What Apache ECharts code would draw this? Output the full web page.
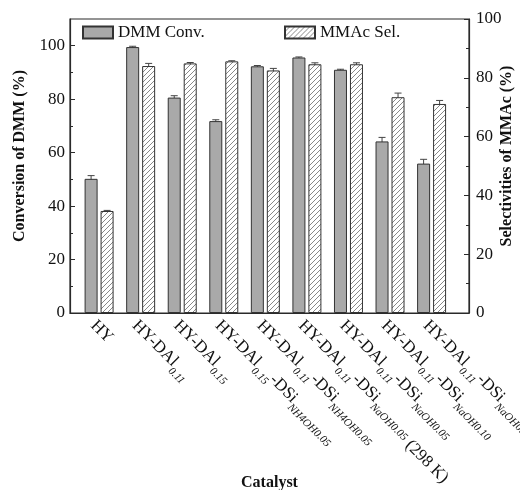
<!DOCTYPE html>
<html>
<head>
<meta charset="utf-8">
<script src="https://cdn.jsdelivr.net/npm/echarts@6/dist/echarts.min.js"></script>
<style>html,body{margin:0;padding:0;background:#fff;}#c{width:520px;height:490px;}</style>
</head>
<body>
<div id="c"></div>
<script>
// ---- data ----
var categories = ['HY', 'HY-DAl0.11', 'HY-DAl0.15', 'HY-DAl0.15-DSiNH4OH0.05', 'HY-DAl0.11-DSiNH4OH0.05',
  'HY-DAl0.11-DSiNaOH0.05 (298 K)', 'HY-DAl0.11-DSiNaOH0.05', 'HY-DAl0.11-DSiNaOH0.10', 'HY-DAl0.11-DSiNaOH0.20'];
var categoryLabels = [
  '{m|HY}',
  '{m|HY-DAl}{s|0.11}',
  '{m|HY-DAl}{s|0.15}',
  '{m|HY-DAl}{s|0.15}{m|-DSi}{s|NH4OH0.05}',
  '{m|HY-DAl}{s|0.11}{m|-DSi}{s|NH4OH0.05}',
  '{m|HY-DAl}{s|0.11}{m|-DSi}{s|NaOH0.05}{b| (298 K)}',
  '{m|HY-DAl}{s|0.11}{m|-DSi}{s|NaOH0.05}',
  '{m|HY-DAl}{s|0.11}{m|-DSi}{s|NaOH0.10}',
  '{m|HY-DAl}{s|0.11}{m|-DSi}{s|NaOH0.20}'
];
var dmmConv = [50.2, 99.5, 80.6, 71.8, 92.3, 95.6, 91.0, 64.2, 55.9];
var dmmErr  = [1.2, 0.3, 0.7, 0.5, 0.3, 0.2, 0.2, 1.5, 1.6];
var mmacSel = [34.7, 84.0, 84.9, 85.6, 82.5, 84.6, 84.6, 73.4, 71.1];
var mmacErr = [0.2, 0.9, 0.3, 0.2, 0.7, 0.5, 0.5, 1.4, 1.2];
var leftTicks = [0, 20, 40, 60, 80, 100];
var leftMinorTicks = [10, 30, 50, 70, 90];
var catIndex = [0, 1, 2, 3, 4, 5, 6, 7, 8];

// ---- styles ----
var FONT = 'Liberation Serif';
var AX = '#2a2a2a';

function hatch() {
  var s = 5;
  var c = document.createElement('canvas');
  c.width = s; c.height = s;
  var g = c.getContext('2d');
  g.fillStyle = '#ffffff'; g.fillRect(0, 0, s, s);
  g.strokeStyle = '#7a7a7a'; g.lineWidth = 0.9;
  g.beginPath();
  g.moveTo(-1, s + 1); g.lineTo(s + 1, -1);
  g.moveTo(-1, 1); g.lineTo(1, -1);
  g.moveTo(s - 1, s + 1); g.lineTo(s + 1, s - 1);
  g.stroke();
  return c;
}

function errSeries(vals, errs, yIdx, dx) {
  return {
    type: 'custom', xAxisIndex: 0, yAxisIndex: yIdx, z: 1, silent: true,
    encode: { x: 0, y: 1 },
    data: vals.map(function (v, i) { return [catIndex[i], v, errs[i]]; }),
    renderItem: function (params, api) {
      var x = api.value(0), v = api.value(1), e = api.value(2);
      var top = api.coord([x, v + e]);
      var bot = api.coord([x, v - e]);
      var cx = top[0] + dx;
      var st = { stroke: '#444', lineWidth: 1 };
      return {
        type: 'group', children: [
          { type: 'line', shape: { x1: cx, y1: top[1], x2: cx, y2: bot[1] }, style: st },
          { type: 'line', shape: { x1: cx - 3.5, y1: top[1], x2: cx + 3.5, y2: top[1] }, style: st }
        ]
      };
    }
  };
}

var chart = echarts.init(document.getElementById('c'), null, { renderer: 'canvas' });
var legendText = { fontFamily: FONT, fontSize: 17, color: '#111' };
var axLine = { show: true, onZero: false, lineStyle: { color: AX, width: 1.2 } };
chart.setOption({
  animation: false,
  backgroundColor: '#fff',
  textStyle: { fontFamily: FONT },
  grid: { left: 70, right: 51, top: 19, bottom: 177, containLabel: false, outerBoundsMode: 'none',
          show: true, borderColor: AX, borderWidth: 1.2, backgroundColor: 'transparent' },
  legend: [
    { data: ['DMM Conv.'], icon: 'rect', left: 82, top: 24, padding: 0, itemWidth: 30, itemHeight: 12, itemGap: 4, textStyle: legendText },
    { data: ['MMAc Sel.'], icon: 'rect', left: 284, top: 24, padding: 0, itemWidth: 30, itemHeight: 12, itemGap: 4, textStyle: legendText }
  ],
  xAxis: {
    type: 'value', min: -0.7, max: 8.9,
    axisLine: axLine,
    axisTick: { show: false },
    splitLine: { show: false },
    name: 'Catalyst', nameLocation: 'middle', nameGap: 162, nameMoveOverlap: false,
    nameTextStyle: { fontFamily: FONT, fontSize: 16, fontWeight: 'bold', color: '#111' },
    axisLabel: {
      customValues: catIndex,
      rotate: -45, align: 'left', verticalAlign: 'top', margin: 4,
      formatter: function (v) { return categoryLabels[Math.round(v)]; },
      rich: {
        m: { fontFamily: FONT, fontSize: 17, color: '#111', verticalAlign: 'top' },
        s: { fontFamily: FONT, fontSize: 11, fontStyle: 'italic', color: '#111', verticalAlign: 'top', padding: [11, 0, 0, 0] },
        b: { fontFamily: FONT, fontSize: 17, color: '#111', verticalAlign: 'top', padding: [9, 0, 0, 0] }
      }
    }
  },
  yAxis: [
    {
      type: 'value', position: 'left', min: 0, max: 110,
      axisLine: axLine,
      axisTick: { show: true, inside: true, length: 5, customValues: leftTicks, lineStyle: { color: AX } },
      axisLabel: { customValues: leftTicks, fontFamily: FONT, fontSize: 17, color: '#111', margin: 5 },
      splitLine: { show: false },
      name: 'Conversion of DMM (%)', nameLocation: 'middle', nameRotate: 90, nameGap: 42, nameMoveOverlap: false,
      nameTextStyle: { fontFamily: FONT, fontSize: 16, fontWeight: 'bold', color: '#111', padding: [0, 0, 0, 20] }
    },
    {
      type: 'value', position: 'right', min: 0, max: 100, interval: 20,
      axisLine: axLine,
      axisTick: { show: true, inside: true, length: 5, lineStyle: { color: AX } },
      minorTick: { show: true, splitNumber: 2, length: 3, lineStyle: { color: AX } },
      axisLabel: { fontFamily: FONT, fontSize: 17, color: '#111', margin: 7 },
      splitLine: { show: false }, minorSplitLine: { show: false },
      name: 'Selectivities of MMAc (%)', nameLocation: 'middle', nameRotate: 90, nameGap: 30, nameMoveOverlap: false,
      nameTextStyle: { fontFamily: FONT, fontSize: 16, fontWeight: 'bold', color: '#111', padding: [0, 0, 0, 20] }
    },
    {
      type: 'value', position: 'left', min: 0, max: 110,
      axisLine: { show: false, onZero: false },
      axisTick: { show: true, inside: true, length: 3, customValues: leftMinorTicks, lineStyle: { color: AX } },
      axisLabel: { show: false },
      splitLine: { show: false }
    }
  ],
  series: [
    errSeries(dmmConv, dmmErr, 0, -8),
    errSeries(mmacSel, mmacErr, 1, 8),
    {
      name: 'DMM Conv.', type: 'bar', xAxisIndex: 0, yAxisIndex: 0, z: 2,
      barWidth: 13, barGap: '23%',
      itemStyle: { color: '#a9a9a9', borderColor: '#333', borderWidth: 1 },
      data: dmmConv.map(function (v, i) { return [catIndex[i], v]; })
    },
    {
      name: 'MMAc Sel.', type: 'bar', xAxisIndex: 0, yAxisIndex: 1, z: 2,
      barWidth: 13, barGap: '23%',
      itemStyle: { color: { image: hatch(), repeat: 'repeat' }, borderColor: '#333', borderWidth: 1 },
      data: mmacSel.map(function (v, i) { return [catIndex[i], v]; })
    }
  ]
});
</script>
</body>
</html>
